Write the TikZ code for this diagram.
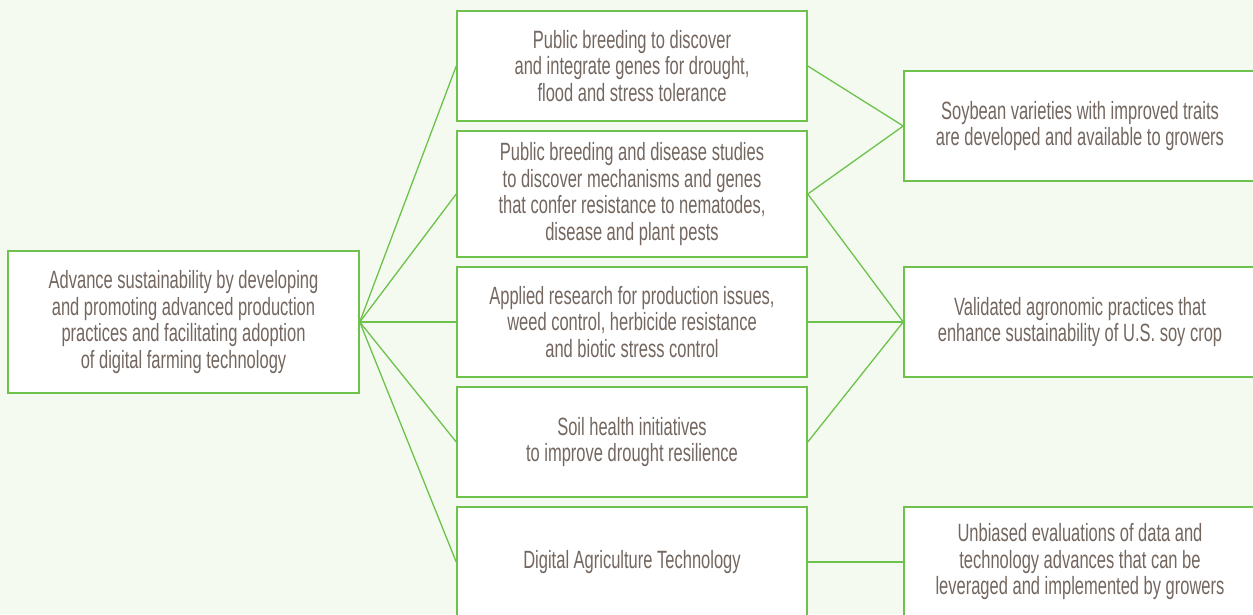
\documentclass[tikz,border=0pt]{standalone}
\usepackage{fontspec}
\setmainfont{Liberation Sans}[FakeStretch=0.66]
\definecolor{leaf}{HTML}{6CC24A}
\definecolor{bark}{HTML}{736760}
\definecolor{meadow}{HTML}{F5FAF1}

\begin{document}
\begin{tikzpicture}[x=1pt, y=-1pt, semithick]
    \tikzstyle{box}=[rectangle, draw=leaf, line width=1.5pt, fill=white, text=bark, align=center, inner sep=0pt, font=\fontsize{25}{26.5}\selectfont]
    \tikzstyle{goal}=[box, minimum width=351pt, minimum height=142pt]
    \tikzstyle{work}=[box, minimum width=350pt, minimum height=110pt]
    \tikzstyle{outc}=[box, minimum width=352pt, minimum height=110pt]
    \tikzstyle{link}=[draw=leaf, line width=1.3pt]

    \useasboundingbox (0,0) rectangle (1253,614);
    \clip (0,0) rectangle (1253,614);
    \fill[meadow] (0,0) rectangle (1253,614);

    \node[goal] (adv) at (183.5,322) {Advance sustainability by developing\\and promoting advanced production\\practices and facilitating adoption\\of digital farming technology};

    \node[work] (brd) at (632,66) {Public breeding to discover\\and integrate genes for drought,\\flood and stress tolerance};
    \node[work, minimum height=126pt] (dis) at (632,194) {Public breeding and disease studies\\to discover mechanisms and genes\\that confer resistance to nematodes,\\disease and plant pests};
    \node[work] (app) at (632,322) {Applied research for production issues,\\weed control, herbicide resistance\\and biotic stress control};
    \node[work] (soil) at (632,442) {Soil health initiatives\\to improve drought resilience};
    \node[work] (dig) at (632,562) {Digital Agriculture Technology};

    \node[outc] (trt) at (1080,126) {Soybean varieties with improved traits\\are developed and available to growers};
    \node[outc] (agr) at (1080,322) {Validated agronomic practices that\\enhance sustainability of U.S. soy crop};
    \node[outc] (evl) at (1080,562) {Unbiased evaluations of data and\\technology advances that can be\\leveraged and implemented by growers};

    \draw[link] (adv.east) edge (brd.west);
    \draw[link] (adv.east) edge (dis.west);
    \draw[link] (adv.east) edge (app.west);
    \draw[link] (adv.east) edge (soil.west);
    \draw[link] (adv.east) edge (dig.west);

    \draw[link] (brd.east) edge (trt.west);
    \draw[link] (dis.east) edge (trt.west);
    \draw[link] (dis.east) edge (agr.west);
    \draw[link] (app.east) edge (agr.west);
    \draw[link] (soil.east) edge (agr.west);
    \draw[link] (dig.east) edge (evl.west);

\end{tikzpicture}
\end{document}
